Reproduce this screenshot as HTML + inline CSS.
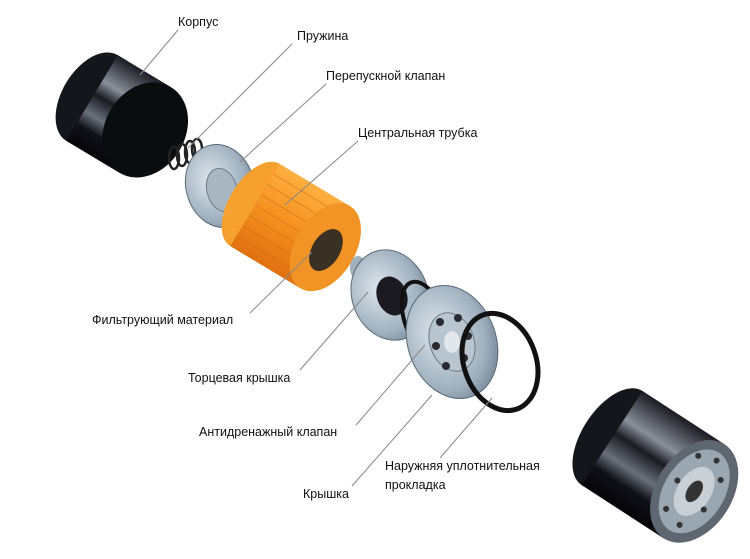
<!DOCTYPE html>
<html><head><meta charset="utf-8"><style>
html,body{margin:0;padding:0;background:#fff;}
svg{display:block}
text{font-family:"Liberation Sans","DejaVu Sans",sans-serif;font-size:12.5px;fill:#111}
</style></head><body>
<svg width="750" height="559" viewBox="0 0 750 559" xmlns="http://www.w3.org/2000/svg">
<defs>
<linearGradient id="blk" x1="0" y1="0" x2="0" y2="1">
<stop offset="0" stop-color="#1a1a22"/><stop offset="0.3" stop-color="#8a8f99"/><stop offset="0.45" stop-color="#1a1a22"/><stop offset="0.65" stop-color="#6a707a"/><stop offset="0.8" stop-color="#101018"/><stop offset="1" stop-color="#050508"/></linearGradient>
<linearGradient id="org" x1="0" y1="0" x2="0" y2="1">
<stop offset="0" stop-color="#ffb040"/><stop offset="0.5" stop-color="#f59020"/><stop offset="1" stop-color="#e07010"/></linearGradient>
<radialGradient id="met" cx="0.4" cy="0.4" r="0.7">
<stop offset="0" stop-color="#dfe6ec"/><stop offset="0.7" stop-color="#9fb0be"/><stop offset="1" stop-color="#6f8090"/></radialGradient>
</defs>
<rect width="750" height="559" fill="#fff"/>

<!-- top-left housing -->
<g transform="translate(92,98) rotate(31)">
<ellipse cx="0" cy="0" rx="30" ry="50" fill="#15151c"/>
<rect x="0" y="-50" width="62" height="100" fill="url(#blk)"/>
<ellipse cx="62" cy="0" rx="40" ry="50" fill="#0a0d10"/>
</g>
<!-- spring -->
<g stroke="#222" stroke-width="2.5" fill="none">
<ellipse cx="174" cy="158" rx="5" ry="11"/><ellipse cx="182" cy="155" rx="5" ry="11"/><ellipse cx="190" cy="152" rx="5" ry="11"/><ellipse cx="197" cy="149" rx="5" ry="10"/>
</g>
<!-- bypass valve disc -->
<ellipse cx="220" cy="186" rx="34" ry="42" transform="rotate(-15 220 186)" fill="url(#met)" stroke="#5b6a78"/>
<ellipse cx="222" cy="190" rx="15" ry="22" transform="rotate(-15 222 190)" fill="#a8b6c2" stroke="#6d7c88"/>
<!-- orange filter -->
<g transform="translate(255,205) rotate(31)">
<ellipse cx="0" cy="0" rx="26" ry="48" fill="#f6a030"/>
<rect x="0" y="-48" width="82" height="96" fill="url(#org)"/>
<g stroke="#c86a10" stroke-width="1" opacity="0.55">
<line x1="0" y1="-36" x2="82" y2="-36"/><line x1="0" y1="-24" x2="82" y2="-24"/><line x1="0" y1="-12" x2="82" y2="-12"/><line x1="0" y1="0" x2="82" y2="0"/><line x1="0" y1="12" x2="82" y2="12"/><line x1="0" y1="24" x2="82" y2="24"/><line x1="0" y1="36" x2="82" y2="36"/>
</g>
<ellipse cx="82" cy="0" rx="30" ry="48" fill="#f29425"/>
<ellipse cx="84" cy="2" rx="14" ry="23" fill="#3a3024"/>
</g>
<!-- end cap -->
<ellipse cx="358" cy="268" rx="8" ry="12" fill="#9fb0be"/>
<ellipse cx="390" cy="295" rx="38" ry="46" transform="rotate(-20 390 295)" fill="url(#met)" stroke="#5b6a78"/>
<ellipse cx="392" cy="296" rx="15" ry="20" transform="rotate(-20 392 296)" fill="#1a1a20"/>
<!-- anti-drain valve ring -->
<ellipse cx="425" cy="320" rx="20" ry="40" transform="rotate(-20 425 320)" fill="none" stroke="#111" stroke-width="4"/>
<!-- cover plate -->
<ellipse cx="452" cy="342" rx="44" ry="58" transform="rotate(-20 452 342)" fill="url(#met)" stroke="#5b6a78"/>
<ellipse cx="452" cy="342" rx="22" ry="30" transform="rotate(-20 452 342)" fill="#b8c4ce" stroke="#6d7c88"/>
<g fill="#2a2a30">
<circle cx="440" cy="322" r="4"/><circle cx="458" cy="318" r="4"/><circle cx="468" cy="336" r="4"/><circle cx="464" cy="358" r="4"/><circle cx="446" cy="366" r="4"/><circle cx="436" cy="346" r="4"/>
</g>
<ellipse cx="452" cy="342" rx="8" ry="11" fill="#e0e6ea"/>
<!-- outer gasket -->
<ellipse cx="500" cy="362" rx="36" ry="50" transform="rotate(-20 500 362)" fill="none" stroke="#111" stroke-width="5"/>
<!-- bottom-right filter -->
<g transform="translate(612,438) rotate(33)">
<ellipse cx="0" cy="0" rx="30" ry="56" fill="#15151c"/>
<rect x="0" y="-56" width="98" height="112" fill="url(#blk)"/>
<ellipse cx="98" cy="0" rx="38" ry="56" fill="#5e6670"/>
<ellipse cx="98" cy="0" rx="30" ry="46" fill="#9aa6b0"/>
<ellipse cx="98" cy="0" rx="17" ry="27" fill="#c8d0d6"/>
<ellipse cx="98" cy="0" rx="7" ry="12" fill="#333"/>
<g fill="#333"><circle cx="82" cy="-32" r="3"/><circle cx="100" cy="-38" r="3"/><circle cx="114" cy="-24" r="3"/><circle cx="116" cy="10" r="3"/><circle cx="104" cy="36" r="3"/><circle cx="84" cy="30" r="3"/><circle cx="78" cy="0" r="3"/></g>
</g>

<!-- leader lines -->
<g stroke="#888" stroke-width="1">
<line x1="178" y1="30" x2="140" y2="75"/>
<line x1="292" y1="44" x2="188" y2="148"/>
<line x1="326" y1="84" x2="240" y2="162"/>
<line x1="358" y1="141" x2="285" y2="205"/>
<line x1="250" y1="313" x2="312" y2="252"/>
<line x1="300" y1="370" x2="368" y2="292"/>
<line x1="356" y1="425" x2="425" y2="345"/>
<line x1="352" y1="486" x2="432" y2="395"/>
<line x1="440" y1="458" x2="492" y2="398"/>
</g>

<!-- labels -->
<text x="178" y="26">Корпус</text>
<text x="297" y="40">Пружина</text>
<text x="326" y="80">Перепускной клапан</text>
<text x="358" y="137">Центральная трубка</text>
<text x="92" y="324">Фильтрующий материал</text>
<text x="188" y="382">Торцевая крышка</text>
<text x="199" y="436">Антидренажный клапан</text>
<text x="303" y="498">Крышка</text>
<text x="385" y="470">Наружняя уплотнительная</text>
<text x="385" y="489">прокладка</text>
</svg>
</body></html>
